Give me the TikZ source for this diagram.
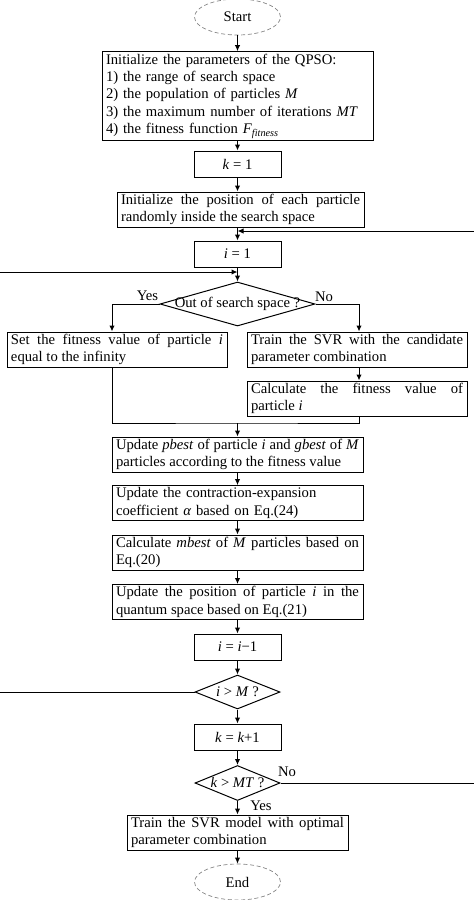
\documentclass[tikz,border=0pt]{standalone}
\usepackage{fontspec}
\setmainfont{Liberation Serif}
\usetikzlibrary{shapes.geometric,arrows.meta}

\tikzset{every picture/.style={line width=0.75pt}}
\tikzset{
  proc/.style={draw, rectangle, inner xsep=3pt, inner ysep=1.5pt, minimum height=26.25pt},
  widebox/.style={proc, text width=182.25pt, align=justify},
  halfbox/.style={proc, text width=159pt, align=justify},
  smallbox/.style={proc, minimum width=65.25pt, minimum height=19.5pt},
  decide/.style={draw, diamond, inner sep=0pt},
  term/.style={draw=gray, densely dashed, line width=0.5pt, ellipse, minimum width=64.5pt, minimum height=27pt},
  arr/.style={-{Latex[length=4.5pt,width=4pt]}}
}

\begin{document}
\begin{tikzpicture}[x=0.75pt,y=0.75pt,yscale=-1,xscale=1,
  every node/.append style={font=\fontsize{11}{13.1}\selectfont}]
%set diagram left start at 0, and has height of 900
\path [use as bounding box, clip] (0,0) rectangle (474,900);

%Shape: Ellipse
\node [term] (start) at (237.5,17) {Start};
%Shape: Rectangle
\node [proc, text width=197.25pt, align=left, minimum height=66pt] (init) at (237.5,96) {Initialize the parameters of the QPSO:\\ 1) the range of search space\\ 2) the population of particles \textit{M}\\ 3) the maximum number of iterations \textit{MT}\\ 4) the fitness function \textit{F}\textsubscript{\textit{fitness}}};
%Shape: Rectangle
\node [smallbox] (k1) at (237.5,164) {\textit{k} = 1};
%Shape: Rectangle
\node [proc, text width=179.25pt, align=justify] (initpos) at (240.5,209.5) {Initialize the position of each particle\linebreak randomly inside the search space};
%Shape: Rectangle
\node [smallbox] (i1) at (237.5,254) {\textit{i} = 1};
%Shape: Diamond
\node [decide, minimum width=116.25pt, minimum height=33pt] (out) at (237.5,304) {\makebox[0pt]{Out of search space ?}};
%Shape: Rectangle
\node [halfbox] (setfit) at (117,349.5) {Set the fitness value of particle \textit{i}\linebreak equal to the infinity};
%Shape: Rectangle
\node [halfbox] (train) at (357,349.5) {Train the SVR with the candidate\linebreak parameter combination};
%Shape: Rectangle
\node [halfbox] (calc) at (357,398.5) {Calculate the fitness value of\linebreak particle \textit{i}};
%Shape: Rectangle
\node [widebox] (pbest) at (237.5,454.5) {Update \textit{pbest} of particle \textit{i} and \textit{gbest} of \textit{M}\linebreak particles according to the fitness value};
%Shape: Rectangle
\node [widebox, align=left, minimum height=25.5pt] (alpha) at (237.5,503) {Update the contraction-expansion\\ coefficient \textit{α} based on Eq.(24)};
%Shape: Rectangle
\node [widebox] (mbest) at (237.5,552.5) {Calculate \textit{mbest} of \textit{M} particles based on\linebreak Eq.(20)};
%Shape: Rectangle
\node [widebox] (pos) at (237.5,602) {Update the position of particle \textit{i} in the\linebreak quantum space based on Eq.(21)};
%Shape: Rectangle
\node [smallbox] (idec) at (237.5,647) {\textit{i} = \textit{i}−1};
%Shape: Diamond
\node [decide, minimum width=63.75pt, minimum height=25.5pt] (iM) at (237.5,692) {\makebox[0pt]{\textit{i} > \textit{M} ?}};
%Shape: Rectangle
\node [smallbox] (kinc) at (237.5,737) {\textit{k} = \textit{k}+1};
%Shape: Diamond
\node [decide, minimum width=63.75pt, minimum height=26.25pt] (kMT) at (237.5,783) {\makebox[0pt]{\textit{k} > \textit{MT} ?}};
%Shape: Rectangle
\node [proc, text width=159.75pt, align=justify] (final) at (237.5,832.5) {Train the SVR model with optimal\linebreak parameter combination};
%Shape: Ellipse
\node [term] (end) at (237.5,882) {End};

% Text Node
\node (yes1) at (147.5,295.5) {Yes};
% Text Node
\node (no1) at (324,297) {No};
% Text Node
\node (no2) at (287,772) {No};
% Text Node
\node (yes2) at (261,806) {Yes};

%Straight Lines
\draw [arr] (start) -- (init);
\draw [arr] (init) -- (k1);
\draw [arr] (k1.south) -- (k1.south |- initpos.north);
\draw [arr] (initpos.south -| i1.north) -- (i1.north);
\draw [arr] (i1) -- (out);
\draw [arr] (out.west) -| ([xshift=-3.75pt]setfit.north);
\draw [arr] (out.east) -| ([xshift=1.5pt]train.north);
\draw [arr] ([xshift=1.5pt]train.south) -- ([xshift=1.5pt]calc.north);
\coordinate (merge) at (237.5,423);
\draw ([xshift=-3.75pt]setfit.south) |- (merge) -| ([xshift=1.5pt]calc.south);
\draw [arr] (merge) -- (pbest);
\draw [arr] (pbest) -- (alpha);
\draw [arr] (alpha) -- (mbest);
\draw [arr] (mbest) -- (pos);
\draw [arr] (pos) -- (idec);
\draw [arr] (idec) -- (iM);
\draw [arr] (iM) -- (kinc);
\draw [arr] (kinc) -- (kMT);
\draw [arr] (kMT) -- (final);
\draw [arr] (final) -- (end);
%Feedback Lines
\coordinate (ijoin) at (237.5,272);
\coordinate (iback) at (-10,692);
\draw [arr] (iM.west) -- (iback) |- (ijoin);
\coordinate (kjoin) at (237.5,231);
\coordinate (kback) at (484,783);
\draw [arr] (kMT.east) -- (kback) |- (kjoin);

\end{tikzpicture}
\end{document}
